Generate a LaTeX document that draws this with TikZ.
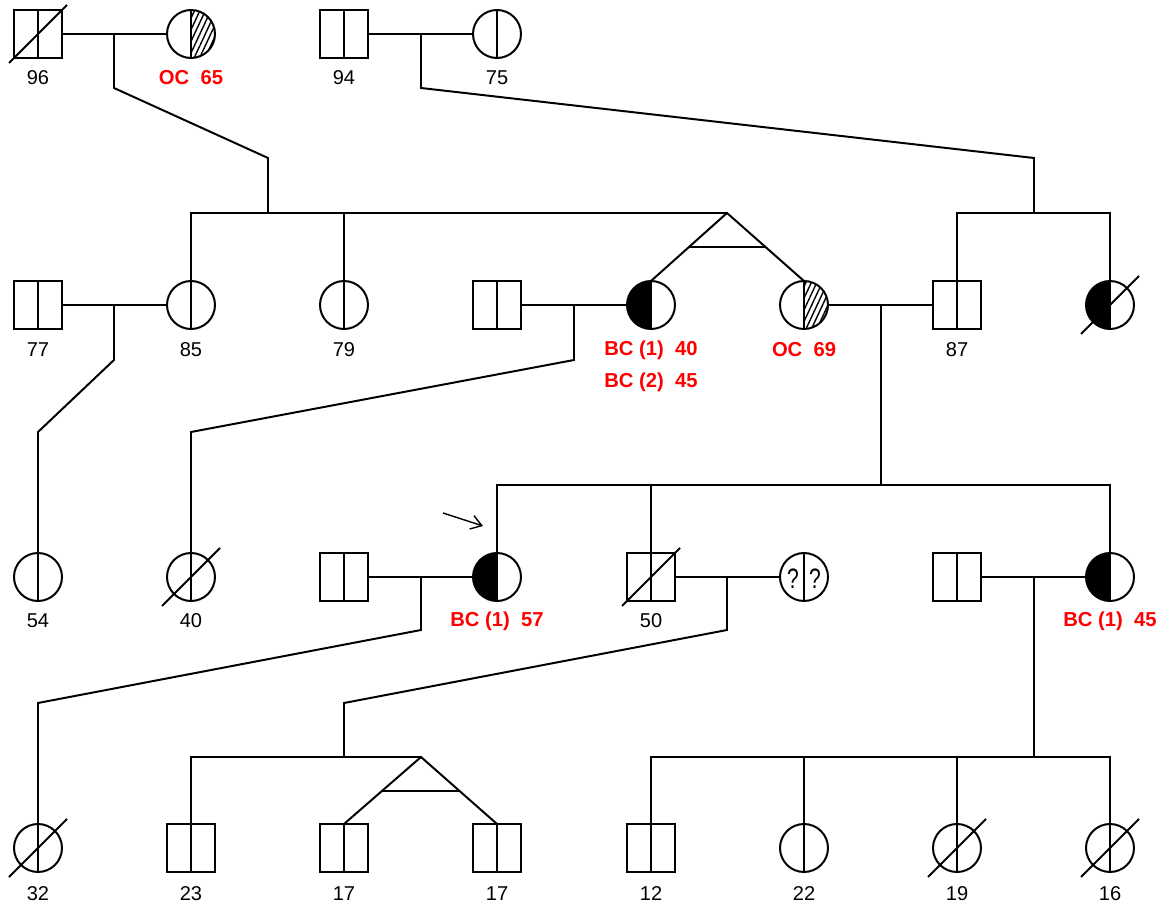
\documentclass[tikz,border=0pt]{standalone}
\usepackage{fontspec}
\setmainfont{Liberation Sans}
\usetikzlibrary{calc,patterns.meta,arrows.meta}
\newcommand\pedaff[1]{\fill (#1.north) arc[start angle=90,end angle=270,radius=0.48cm] -- cycle;}
\newcommand\pedhatch[1]{\fill[pattern={Lines[angle=65,distance=2.8pt,line width=0.8pt]}] (#1.north) arc[start angle=90,end angle=-90,radius=0.48cm] -- cycle;}
\newcommand\peddec[1]{\draw ([shift={(-29,29)}]#1.center) -- ([shift={(29,-29)}]#1.center);}
\begin{document}
\begin{tikzpicture}[x=0.02cm,y=-0.02cm,line width=1.13pt,
  m/.style={rectangle,draw,minimum size=0.96cm,inner sep=0pt,outer sep=0pt},
  f/.style={circle,draw,minimum size=0.96cm,inner sep=0pt,outer sep=0pt},
  lbl/.style={anchor=base,inner sep=0pt,font=\fontsize{11.4pt}{13pt}\selectfont},
  aff/.style={anchor=base,inner sep=0pt,text=red,font=\fontsize{11.5pt}{13pt}\selectfont\bfseries},
  qm/.style={inner sep=0pt,font=\fontsize{16pt}{18pt}\selectfont}]
\useasboundingbox (0,0) rectangle (1171,905);
% generation I
\node[m] (i1) at (38,34) {};
\node[f] (i2) at (191,34) {};
\node[m] (i3) at (344,34) {};
\node[f] (i4) at (497,34) {};
% generation II
\node[m] (ii1) at (38,305) {};
\node[f] (ii2) at (191,305) {};
\node[f] (ii3) at (344,305) {};
\node[m] (ii4) at (497,305) {};
\node[f] (ii5) at (651,305) {};
\node[f] (ii6) at (804,305) {};
\node[m] (ii7) at (957,305) {};
\node[f] (ii8) at (1110,305) {};
% generation III
\node[f] (iii1) at (38,577) {};
\node[f] (iii2) at (191,577) {};
\node[m] (iii3) at (344,577) {};
\node[f] (iii4) at (497,577) {};
\node[m] (iii5) at (651,577) {};
\node[f] (iii6) at (804,577) {};
\node[m] (iii7) at (957,577) {};
\node[f] (iii8) at (1110,577) {};
% generation IV
\node[f] (iv1) at (38,848) {};
\node[m] (iv2) at (191,848) {};
\node[m] (iv3) at (344,848) {};
\node[m] (iv4) at (497,848) {};
\node[m] (iv5) at (651,848) {};
\node[f] (iv6) at (804,848) {};
\node[f] (iv7) at (957,848) {};
\node[f] (iv8) at (1110,848) {};
% fills
\foreach \n in {ii5,ii8,iii4,iii8} {\pedaff{\n}}
\foreach \n in {i2,ii6} {\pedhatch{\n}}
% center lines
\foreach \n in {i1,i2,i3,i4,ii1,ii2,ii3,ii4,ii5,ii6,ii7,ii8,iii1,iii2,iii3,iii4,iii5,iii6,iii7,iii8,iv1,iv2,iv3,iv4,iv5,iv6,iv7,iv8}
  {\draw (\n.north) -- (\n.south);}
% deceased
\foreach \n in {i1,ii8,iii2,iii5,iv1,iv7,iv8} {\peddec{\n}}
% question marks
\node[qm] (q1) at (793,579) {\scalebox{0.75}[1]{?}};
\node[qm] (q2) at (815,579) {\scalebox{0.75}[1]{?}};
% gen I -> II
\coordinate (i12) at (114,34);
\coordinate (s2a) at (268,213);
\coordinate (tw1) at (727,213);
\draw (i1.east) -- (i2.west);
\draw (i12) -- ++(0,54) -- (268,158) -- (s2a);
\draw (ii2.north) -- (ii2.north |- s2a) -- (tw1);
\draw (ii3.north |- s2a) -- (ii3.north);
\draw (ii5.north) -- (tw1) -- (ii6.north);
\draw ($(tw1)!0.5!(ii5.north)$) -- ($(tw1)!0.5!(ii6.north)$);
\coordinate (i34) at (421,34);
\coordinate (s2b) at (1034,213);
\draw (i3.east) -- (i4.west);
\draw (i34) -- ++(0,54) -- (1034,158) -- (s2b);
\draw (ii7.north) -- (ii7.north |- s2b) -- (ii8.north |- s2b) -- (ii8.north);
% gen II -> III
\coordinate (ii12) at (114,305);
\draw (ii1.east) -- (ii2.west);
\draw (ii12) -- ++(0,55) -- (38,432) -- (iii1.north);
\coordinate (ii45) at (574,305);
\draw (ii4.east) -- (ii5.west);
\draw (ii45) -- ++(0,55) -- (191,432) -- (iii2.north);
\coordinate (ii67) at (881,305);
\coordinate (s3) at (881,485);
\draw (ii6.east) -- (ii7.west);
\draw (ii67) -- (s3);
\draw (iii4.north) -- (iii4.north |- s3) -- (iii8.north |- s3) -- (iii8.north);
\draw (iii5.north |- s3) -- (iii5.north);
% gen III -> IV
\coordinate (iii34) at (421,577);
\draw (iii3.east) -- (iii4.west);
\draw (iii34) -- ++(0,53) -- (38,703) -- (iv1.north);
\coordinate (iii56) at (727,577);
\coordinate (s4a) at (344,757);
\coordinate (tw2) at (421,757);
\draw (iii5.east) -- (iii6.west);
\draw (iii56) -- ++(0,53) -- (344,703) -- (s4a);
\draw (iv2.north) -- (iv2.north |- s4a) -- (tw2);
\draw (iv3.north) -- (tw2) -- (iv4.north);
\draw ($(tw2)!0.5075!(iv3.north)$) -- ($(tw2)!0.5075!(iv4.north)$);
\coordinate (iii78) at (1034,577);
\coordinate (s4b) at (1034,757);
\draw (iii7.east) -- (iii8.west);
\draw (iii78) -- (s4b);
\draw (iv5.north) -- (iv5.north |- s4b) -- (iv8.north |- s4b) -- (iv8.north);
\draw (iv6.north |- s4b) -- (iv6.north);
\draw (iv7.north |- s4b) -- (iv7.north);
% proband arrow
\coordinate (pa) at (443,513);
\coordinate (pb) at (483,526);
\draw[line width=0.8pt,-{Straight Barb[length=6pt,width=8pt]}] (pa) -- (pb);
% labels
\node[lbl] (l96) at (38,85) {96};
\node[aff] (l65) at (191,85) {OC\ \ 65};
\node[lbl] (l94) at (344,85) {94};
\node[lbl] (l75) at (497,85) {75};
\node[lbl] (l77) at (38,357) {77};
\node[lbl] (l85) at (191,357) {85};
\node[lbl] (l79) at (344,357) {79};
\node[aff] (l40a) at (651,356) {BC (1)\ \ 40};
\node[aff] (l45a) at (651,388) {BC (2)\ \ 45};
\node[aff] (l69) at (804,357) {OC\ \ 69};
\node[lbl] (l87) at (957,357) {87};
\node[lbl] (l54) at (38,628) {54};
\node[lbl] (l40) at (191,628) {40};
\node[aff] (l57) at (497,627) {BC (1)\ \ 57};
\node[lbl] (l50) at (651,628) {50};
\node[aff] (l45b) at (1110,627) {BC (1)\ \ 45};
\node[lbl] (l32) at (38,900) {32};
\node[lbl] (l23) at (191,900) {23};
\node[lbl] (l17a) at (344,900) {17};
\node[lbl] (l17b) at (497,900) {17};
\node[lbl] (l12) at (651,900) {12};
\node[lbl] (l22) at (804,900) {22};
\node[lbl] (l19) at (957,900) {19};
\node[lbl] (l16) at (1110,900) {16};
\end{tikzpicture}
\end{document}
